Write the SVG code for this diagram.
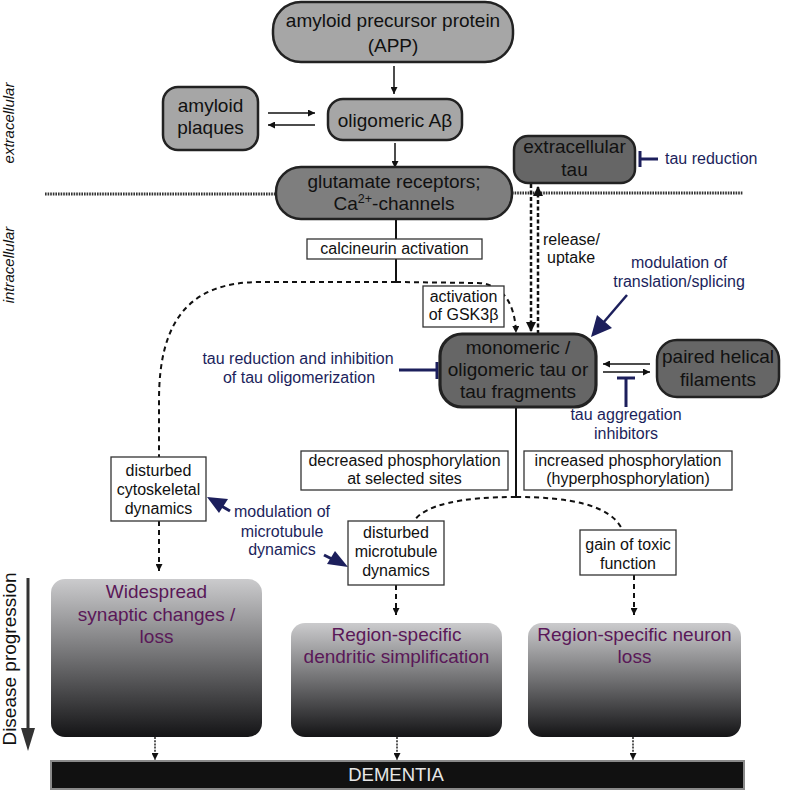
<svg xmlns="http://www.w3.org/2000/svg" width="787" height="790" viewBox="0 0 787 790">
<style>
text{font-family:"Liberation Sans",Arial,sans-serif;}
.big{font-size:19px;fill:#111;text-anchor:middle;}
.sm{font-size:16px;fill:#111;text-anchor:middle;}
.navy{font-size:16px;fill:#1c1f5c;text-anchor:middle;}
.out{font-size:19px;fill:#5a1858;text-anchor:middle;}
.side{font-size:15px;font-style:italic;fill:#111;text-anchor:middle;}
.light{fill:#a6a6a6;stroke:#222;stroke-width:2.5;}
.mid{fill:#7e7e7e;stroke:#222;stroke-width:2.5;}
.dark{fill:#666;stroke:#222;stroke-width:2.5;}
.wbox{fill:#fff;stroke:#333;stroke-width:1.3;}
.solid{fill:none;stroke:#111;stroke-width:1.5;}
.thick{fill:none;stroke:#111;stroke-width:2;}
.dash{fill:none;stroke:#111;stroke-width:2;stroke-dasharray:5,4;}
.dashT{fill:none;stroke:#111;stroke-width:2.5;stroke-dasharray:4,2.5;}
.dot{fill:none;stroke:#222;stroke-width:1.5;stroke-dasharray:2,1.2;}
.memb{fill:none;stroke:#333;stroke-width:3;stroke-dasharray:1.6,1;}
.inh{fill:none;stroke:#1c1f5c;stroke-width:3;}
</style>
<defs>
<marker id="ah" viewBox="0 0 10 10" refX="10" refY="5" markerWidth="9" markerHeight="7" markerUnits="userSpaceOnUse" orient="auto"><path d="M0,0 L10,5 L0,10 z" fill="#111"/></marker>
<marker id="ahL" viewBox="0 0 10 10" refX="10" refY="5" markerWidth="11" markerHeight="10" markerUnits="userSpaceOnUse" orient="auto"><path d="M0,0 L10,5 L0,10 z" fill="#111"/></marker>
<linearGradient id="g" x1="0" y1="0" x2="0" y2="1">
<stop offset="0" stop-color="#cbcbcd"/>
<stop offset="0.5" stop-color="#707072"/>
<stop offset="1" stop-color="#141416"/>
</linearGradient>
</defs>

<text class="side" transform="translate(14,123) rotate(-90)">extracellular</text>
<text class="side" transform="translate(14,265) rotate(-90)">intracellular</text>

<g id="membrane">
<line class="memb" x1="45" y1="194" x2="276" y2="194"/>
<line class="memb" x1="512" y1="193" x2="743" y2="193"/>
</g>

<g id="connectors">
<line class="solid" x1="394" y1="66" x2="394" y2="94" marker-end="url(#ah)"/>
<line class="solid" x1="395" y1="143" x2="395" y2="168" marker-end="url(#ah)"/>
<line class="solid" x1="268" y1="113" x2="315" y2="113" marker-end="url(#ah)"/>
<line class="solid" x1="315" y1="125" x2="268" y2="125" marker-end="url(#ah)"/>
<line class="thick" x1="396" y1="219" x2="396" y2="282"/>
<path class="dash" d="M396,282 L260,282 C190,282 159,320 159,400 L159,457"/>
<path class="dash" d="M396,282 L478,283 C500,284 515,300 516,333" marker-end="url(#ah)"/>
<line class="dashT" x1="531" y1="184" x2="531" y2="332" marker-end="url(#ahL)"/>
<line class="dashT" x1="538" y1="334" x2="538" y2="186" marker-end="url(#ahL)"/>
<line class="solid" x1="650" y1="364" x2="603" y2="364" marker-end="url(#ah)"/>
<line class="solid" x1="603" y1="372" x2="650" y2="372" marker-end="url(#ah)"/>
<line class="thick" x1="516" y1="407" x2="516" y2="497"/>
<path class="dash" d="M516,497 C460,497 425,505 414,521"/>
<path class="dash" d="M516,497 C570,497 610,505 622,529"/>
<line class="dash" x1="159" y1="521" x2="159" y2="571" marker-end="url(#ah)"/>
<line class="dash" x1="396" y1="585" x2="396" y2="615" marker-end="url(#ah)"/>
<line class="dash" x1="634" y1="575" x2="634" y2="615" marker-end="url(#ah)"/>
<line class="dot" x1="155" y1="737" x2="155" y2="760" marker-end="url(#ah)"/>
<line class="dot" x1="397" y1="737" x2="397" y2="760" marker-end="url(#ah)"/>
<line class="dot" x1="633" y1="737" x2="633" y2="760" marker-end="url(#ah)"/>
</g>

<g id="interventions">
<line class="inh" x1="640" y1="151" x2="640" y2="167"/>
<line class="inh" x1="640" y1="159" x2="658" y2="159"/>
<text class="navy" x="665" y="164" style="text-anchor:start">tau reduction</text>
<text class="navy" x="679" y="268">modulation of</text>
<text class="navy" x="679" y="287">translation/splicing</text>
<line class="inh" x1="627" y1="295" x2="603" y2="323" style="stroke-width:2.5"/>
<path d="M591,337 L597,315 L612,328 z" fill="#1c1f5c"/>
<text class="navy" x="298" y="364">tau reduction and inhibition</text>
<text class="navy" x="299" y="383">of tau oligomerization</text>
<line class="inh" x1="399" y1="370" x2="437" y2="370"/>
<line class="inh" x1="437" y1="362" x2="437" y2="379"/>
<line class="inh" x1="617" y1="378" x2="635" y2="378"/>
<line class="inh" x1="626" y1="378" x2="626" y2="407"/>
<text class="navy" x="626" y="420">tau aggregation</text>
<text class="navy" x="626" y="439">inhibitors</text>
<text class="navy" x="282" y="517">modulation of</text>
<text class="navy" x="282" y="537">microtubule</text>
<text class="navy" x="282" y="555">dynamics</text>
<line class="inh" x1="230" y1="511" x2="218" y2="504"/>
<path d="M207,497 L228,499 L219,513 z" fill="#1c1f5c"/>
<line class="inh" x1="324" y1="555" x2="336" y2="561"/>
<path d="M348,567 L327,564 L335,551 z" fill="#1c1f5c"/>
</g>

<g id="app">
<rect class="light" x="273" y="2" width="240" height="60" rx="28"/>
<text class="big" x="393" y="27">amyloid precursor protein</text>
<text class="big" x="393" y="52">(APP)</text>
</g>
<g id="plaques">
<rect class="light" x="163" y="87" width="95" height="63" rx="15"/>
<text class="big" x="210.5" y="112">amyloid</text>
<text class="big" x="210.5" y="134">plaques</text>
</g>
<g id="abeta">
<rect class="light" x="328" y="99" width="134" height="41" rx="15"/>
<text class="big" x="395" y="127">oligomeric Aβ</text>
</g>
<g id="glutamate">
<rect class="mid" x="276" y="167" width="236" height="52" rx="25"/>
<text class="big" x="394" y="188">glutamate receptors;</text>
<text class="big" x="394" y="210">Ca<tspan font-size="12.5" dy="-7">2+</tspan><tspan dy="7">-channels</tspan></text>
</g>
<g id="exttau">
<rect class="dark" x="514" y="136" width="121" height="47" rx="14"/>
<text class="big" x="574.5" y="153">extracellular</text>
<text class="big" x="574.5" y="176">tau</text>
</g>
<g id="calcineurin">
<rect class="wbox" x="307" y="239" width="175" height="20"/>
<text class="sm" x="394.5" y="254">calcineurin activation</text>
</g>
<g id="gsk">
<rect class="wbox" x="423" y="286" width="81" height="41"/>
<text class="sm" x="463.5" y="302">activation</text>
<text class="sm" x="463.5" y="320">of GSK3β</text>
</g>
<text class="sm" x="543" y="245" style="text-anchor:start">release/</text>
<text class="sm" x="547" y="263" style="text-anchor:start">uptake</text>
<g id="monomeric">
<rect class="dark" x="440" y="334" width="156" height="73" rx="22" style="stroke-width:3.2"/>
<text class="big" x="518" y="354">monomeric /</text>
<text class="big" x="518" y="376">oligomeric tau or</text>
<text class="big" x="518" y="398">tau fragments</text>
</g>
<g id="phf">
<rect class="dark" x="657" y="340" width="122" height="57" rx="20"/>
<text class="big" x="718" y="363">paired helical</text>
<text class="big" x="718" y="386">filaments</text>
</g>
<g id="decreased">
<rect class="wbox" x="301" y="451" width="207" height="39"/>
<text class="sm" x="404.5" y="466">decreased phosphorylation</text>
<text class="sm" x="404.5" y="484">at selected sites</text>
</g>
<g id="increased">
<rect class="wbox" x="524" y="451" width="208" height="39"/>
<text class="sm" x="628" y="466">increased phosphorylation</text>
<text class="sm" x="628" y="484">(hyperphosphorylation)</text>
</g>
<g id="cytoskeletal">
<rect class="wbox" x="111" y="457" width="95" height="64"/>
<text class="sm" x="158.5" y="476">disturbed</text>
<text class="sm" x="158.5" y="495">cytoskeletal</text>
<text class="sm" x="158.5" y="514">dynamics</text>
</g>
<g id="microtubule">
<rect class="wbox" x="348" y="521" width="96" height="64"/>
<text class="sm" x="396" y="538">disturbed</text>
<text class="sm" x="396" y="557">microtubule</text>
<text class="sm" x="396" y="576">dynamics</text>
</g>
<g id="toxic">
<rect class="wbox" x="580" y="530" width="96" height="45"/>
<text class="sm" x="628" y="550">gain of toxic</text>
<text class="sm" x="628" y="569">function</text>
</g>
<g id="widespread">
<rect x="51" y="579" width="211" height="158" rx="14" fill="url(#g)"/>
<text class="out" x="156.5" y="598">Widespread</text>
<text class="out" x="156.5" y="621">synaptic changes /</text>
<text class="out" x="156.5" y="643">loss</text>
</g>
<g id="dendritic">
<rect x="291" y="623" width="211" height="114" rx="14" fill="url(#g)"/>
<text class="out" x="396.5" y="641">Region-specific</text>
<text class="out" x="396.5" y="663">dendritic simplification</text>
</g>
<g id="neuronloss">
<rect x="528" y="623" width="213" height="114" rx="14" fill="url(#g)"/>
<text class="out" x="634.5" y="641">Region-specific neuron</text>
<text class="out" x="634.5" y="663">loss</text>
</g>
<g id="dementia">
<rect x="51" y="761" width="693" height="28" fill="#111" stroke="#8a8a8a" stroke-width="2"/>
<text x="396" y="781" style="font-size:18.5px;fill:#e6e6e6;text-anchor:middle">DEMENTIA</text>
</g>
<g id="progression">
<line x1="28" y1="578" x2="28" y2="730" stroke="#333" stroke-width="3"/>
<path d="M21,728 L35,728 L28,751 z" fill="#333"/>
<text transform="translate(16,659) rotate(-90)" style="font-size:19px;fill:#111;text-anchor:middle">Disease progression</text>
</g>
</svg>
